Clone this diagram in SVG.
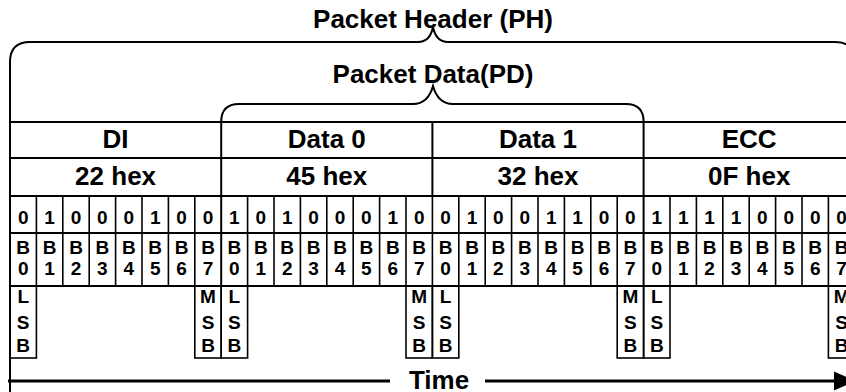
<svg xmlns="http://www.w3.org/2000/svg" width="846" height="392" viewBox="0 0 846 392">
<style>
  text { font-family: "Liberation Sans", Arial, sans-serif; font-weight: bold; fill: #000; text-anchor: middle; }
  .big { font-size: 26px; }
  .bit { font-size: 19px; }
  .ln { stroke: #000; stroke-width: 2; fill: none; }
  .cell { stroke: #000; stroke-width: 1.6; fill: none; }
  .arrow { stroke: #000; stroke-width: 3; fill: none; }
</style>
<rect width="846" height="392" fill="#fff"/>

<g id="connectors">
  <path class="ln" d="M10,392 L10,62 Q10,42 30,42 L418,42 Q430,42 433,27 Q436,42 448,42 L835,42 Q855,42 855,62 L855,122"/>
  <path class="ln" d="M221.2,286 L221.2,122 Q221.2,104 239,104 L413,104 Q428,104 433,86 Q438,104 453,104 L626,104 Q643.6,104 643.6,122 L643.6,286"/>
  <line class="arrow" x1="8" y1="381" x2="390" y2="381"/>
  <line class="arrow" x1="485" y1="381" x2="838" y2="381"/>
  <polygon points="834,371.5 856,381 834,390.5" fill="#000"/>
</g>

<g id="ph-label"><text class="big" x="433" y="28">Packet Header (PH)</text></g>
<g id="pd-label"><text class="big" x="433" y="83">Packet Data(PD)</text></g>

<g id="table-grid">
  <line class="ln" x1="10" y1="122" x2="855" y2="122"/>
  <line class="ln" x1="10" y1="158" x2="855" y2="158"/>
  <line class="ln" x1="10" y1="196" x2="855" y2="196"/>
  <line class="ln" x1="10" y1="233" x2="855" y2="233"/>
  <line class="ln" x1="10" y1="286" x2="855" y2="286"/>
  <line class="ln" x1="432.4" y1="122" x2="432.4" y2="196"/>
  <path class="cell" d="M36.4,196V286M62.8,196V286M89.2,196V286M115.6,196V286M142,196V286M168.4,196V286M194.8,196V286M247.6,196V286M274,196V286M300.4,196V286M326.8,196V286M353.2,196V286M379.6,196V286M406,196V286M432.4,196V286M458.8,196V286M485.2,196V286M511.6,196V286M538,196V286M564.4,196V286M590.8,196V286M617.2,196V286M670,196V286M696.4,196V286M722.8,196V286M749.2,196V286M775.6,196V286M802,196V286M828.4,196V286"/>
</g>

<g id="hdr-di"><text class="big" x="115.6" y="148">DI</text><text class="big" x="115.6" y="185">22 hex</text></g>
<g id="hdr-d0"><text class="big" x="326.8" y="148">Data 0</text><text class="big" x="326.8" y="185">45 hex</text></g>
<g id="hdr-d1"><text class="big" x="538" y="148">Data 1</text><text class="big" x="538" y="185">32 hex</text></g>
<g id="hdr-ecc"><text class="big" x="749.2" y="148">ECC</text><text class="big" x="749.2" y="185">0F hex</text></g>

<g id="bits-di">
  <text class="bit" x="23.2" y="224">0</text><text class="bit" x="49.6" y="224">1</text><text class="bit" x="76" y="224">0</text><text class="bit" x="102.4" y="224">0</text><text class="bit" x="128.8" y="224">0</text><text class="bit" x="155.2" y="224">1</text><text class="bit" x="181.6" y="224">0</text><text class="bit" x="208" y="224">0</text>
</g>
<g id="bits-d0">
  <text class="bit" x="234.4" y="224">1</text><text class="bit" x="260.8" y="224">0</text><text class="bit" x="287.2" y="224">1</text><text class="bit" x="313.6" y="224">0</text><text class="bit" x="340" y="224">0</text><text class="bit" x="366.4" y="224">0</text><text class="bit" x="392.8" y="224">1</text><text class="bit" x="419.2" y="224">0</text>
</g>
<g id="bits-d1">
  <text class="bit" x="445.6" y="224">0</text><text class="bit" x="472" y="224">1</text><text class="bit" x="498.4" y="224">0</text><text class="bit" x="524.8" y="224">0</text><text class="bit" x="551.2" y="224">1</text><text class="bit" x="577.6" y="224">1</text><text class="bit" x="604" y="224">0</text><text class="bit" x="630.4" y="224">0</text>
</g>
<g id="bits-ecc">
  <text class="bit" x="656.8" y="224">1</text><text class="bit" x="683.2" y="224">1</text><text class="bit" x="709.6" y="224">1</text><text class="bit" x="736" y="224">1</text><text class="bit" x="762.4" y="224">0</text><text class="bit" x="788.8" y="224">0</text><text class="bit" x="815.2" y="224">0</text><text class="bit" x="841.6" y="224">0</text>
</g>

<g id="bitnames-di">
  <text class="bit" x="23.2" y="254">B<tspan x="23.2" y="275">0</tspan></text>
  <text class="bit" x="49.6" y="254">B<tspan x="49.6" y="275">1</tspan></text>
  <text class="bit" x="76" y="254">B<tspan x="76" y="275">2</tspan></text>
  <text class="bit" x="102.4" y="254">B<tspan x="102.4" y="275">3</tspan></text>
  <text class="bit" x="128.8" y="254">B<tspan x="128.8" y="275">4</tspan></text>
  <text class="bit" x="155.2" y="254">B<tspan x="155.2" y="275">5</tspan></text>
  <text class="bit" x="181.6" y="254">B<tspan x="181.6" y="275">6</tspan></text>
  <text class="bit" x="208" y="254">B<tspan x="208" y="275">7</tspan></text>
</g>
<g id="bitnames-d0">
  <text class="bit" x="234.4" y="254">B<tspan x="234.4" y="275">0</tspan></text>
  <text class="bit" x="260.8" y="254">B<tspan x="260.8" y="275">1</tspan></text>
  <text class="bit" x="287.2" y="254">B<tspan x="287.2" y="275">2</tspan></text>
  <text class="bit" x="313.6" y="254">B<tspan x="313.6" y="275">3</tspan></text>
  <text class="bit" x="340" y="254">B<tspan x="340" y="275">4</tspan></text>
  <text class="bit" x="366.4" y="254">B<tspan x="366.4" y="275">5</tspan></text>
  <text class="bit" x="392.8" y="254">B<tspan x="392.8" y="275">6</tspan></text>
  <text class="bit" x="419.2" y="254">B<tspan x="419.2" y="275">7</tspan></text>
</g>
<g id="bitnames-d1">
  <text class="bit" x="445.6" y="254">B<tspan x="445.6" y="275">0</tspan></text>
  <text class="bit" x="472" y="254">B<tspan x="472" y="275">1</tspan></text>
  <text class="bit" x="498.4" y="254">B<tspan x="498.4" y="275">2</tspan></text>
  <text class="bit" x="524.8" y="254">B<tspan x="524.8" y="275">3</tspan></text>
  <text class="bit" x="551.2" y="254">B<tspan x="551.2" y="275">4</tspan></text>
  <text class="bit" x="577.6" y="254">B<tspan x="577.6" y="275">5</tspan></text>
  <text class="bit" x="604" y="254">B<tspan x="604" y="275">6</tspan></text>
  <text class="bit" x="630.4" y="254">B<tspan x="630.4" y="275">7</tspan></text>
</g>
<g id="bitnames-ecc">
  <text class="bit" x="656.8" y="254">B<tspan x="656.8" y="275">0</tspan></text>
  <text class="bit" x="683.2" y="254">B<tspan x="683.2" y="275">1</tspan></text>
  <text class="bit" x="709.6" y="254">B<tspan x="709.6" y="275">2</tspan></text>
  <text class="bit" x="736" y="254">B<tspan x="736" y="275">3</tspan></text>
  <text class="bit" x="762.4" y="254">B<tspan x="762.4" y="275">4</tspan></text>
  <text class="bit" x="788.8" y="254">B<tspan x="788.8" y="275">5</tspan></text>
  <text class="bit" x="815.2" y="254">B<tspan x="815.2" y="275">6</tspan></text>
  <text class="bit" x="841.6" y="254">B<tspan x="841.6" y="275">7</tspan></text>
</g>

<g id="lsb-di"><rect class="cell" x="10" y="286" width="26.4" height="72"/><text class="bit" x="23.2" y="303">L<tspan x="23.2" y="329">S</tspan><tspan x="23.2" y="352">B</tspan></text></g>
<g id="msb-di"><rect class="cell" x="194.8" y="286" width="26.4" height="72"/><text class="bit" x="208" y="303">M<tspan x="208" y="329">S</tspan><tspan x="208" y="352">B</tspan></text></g>
<g id="lsb-d0"><rect class="cell" x="221.2" y="286" width="26.4" height="72"/><text class="bit" x="234.4" y="303">L<tspan x="234.4" y="329">S</tspan><tspan x="234.4" y="352">B</tspan></text></g>
<g id="msb-d0"><rect class="cell" x="406" y="286" width="26.4" height="72"/><text class="bit" x="419.2" y="303">M<tspan x="419.2" y="329">S</tspan><tspan x="419.2" y="352">B</tspan></text></g>
<g id="lsb-d1"><rect class="cell" x="432.4" y="286" width="26.4" height="72"/><text class="bit" x="445.6" y="303">L<tspan x="445.6" y="329">S</tspan><tspan x="445.6" y="352">B</tspan></text></g>
<g id="msb-d1"><rect class="cell" x="617.2" y="286" width="26.4" height="72"/><text class="bit" x="630.4" y="303">M<tspan x="630.4" y="329">S</tspan><tspan x="630.4" y="352">B</tspan></text></g>
<g id="lsb-ecc"><rect class="cell" x="643.6" y="286" width="26.4" height="72"/><text class="bit" x="656.8" y="303">L<tspan x="656.8" y="329">S</tspan><tspan x="656.8" y="352">B</tspan></text></g>
<g id="msb-ecc"><rect class="cell" x="828.4" y="286" width="26.4" height="72"/><text class="bit" x="841.6" y="303">M<tspan x="841.6" y="329">S</tspan><tspan x="841.6" y="352">B</tspan></text></g>

<g id="time-label"><text class="big" x="439" y="389">Time</text></g>
</svg>
